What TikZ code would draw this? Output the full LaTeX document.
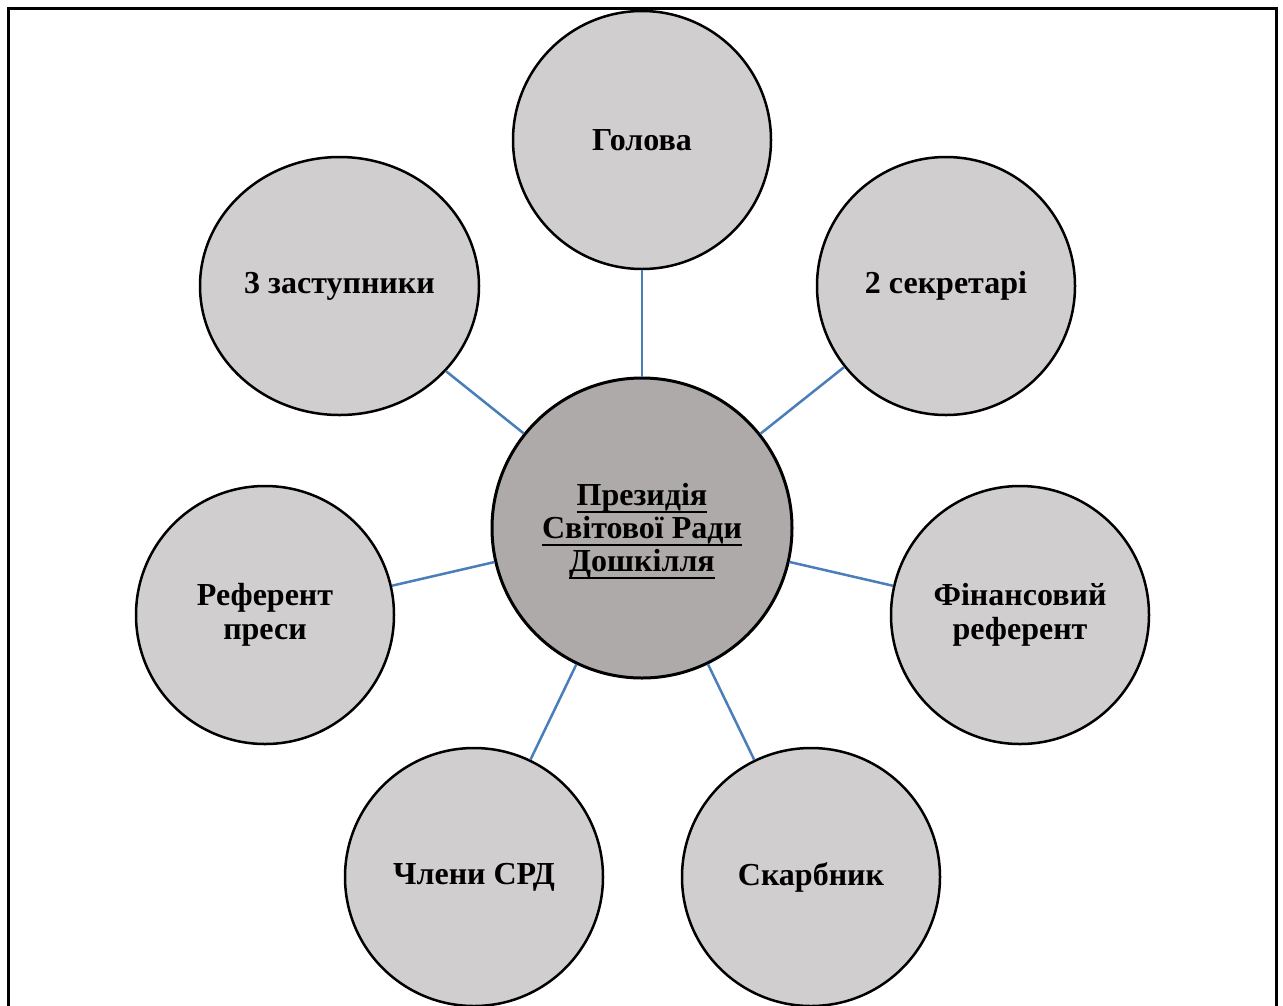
\documentclass[tikz,border=0pt]{standalone}
\usepackage{fontspec}
\setmainfont{Liberation Serif}
\usetikzlibrary{shapes.geometric}
\newcommand\myul[1]{\setbox0\hbox{#1}\rlap{\rule[-7pt]{\wd0}{2pt}}\box0}
\definecolor{outerfill}{HTML}{D0CECE}
\definecolor{centerfill}{HTML}{AEAAAA}
\definecolor{linkblue}{HTML}{4A7EBB}
\tikzset{
  role/.style={circle, draw=black, line width=2.5pt, fill=outerfill, minimum size=258pt, inner sep=0pt,
    align=center, font=\bfseries\fontsize{32}{34}\selectfont},
  roleell/.style={ellipse, draw=black, line width=2.5pt, fill=outerfill, minimum width=279pt, minimum height=258pt, inner sep=0pt,
    align=center, font=\bfseries\fontsize{32}{34}\selectfont},
  hub/.style={circle, draw=black, line width=3pt, fill=centerfill, minimum size=300pt, inner sep=0pt},
  hubtext/.style={align=center, inner sep=0pt, font=\bfseries\fontsize{32}{33}\selectfont},
  link/.style={draw=linkblue, line width=2.5pt},
  frame/.style={draw=black, line width=3pt}
}
\begin{document}
\begin{tikzpicture}[x=1pt,y=-1pt]
\useasboundingbox (0,0) rectangle (1283,1005);
\begin{scope}
\clip (0,0) rectangle (1283,1005);
\draw[frame] (8.5,1020) -- (8.5,8.5) -- (1276,8.5) -- (1276,1020);
\end{scope}
\node[hub] (c) at (642,528) {};
\node[hubtext] (ct) at (642,531) {\myul{Президія}\\\myul{Світової Ради}\\\myul{Дошкілля}};
\node[role] (g) at (642,140) {Голова};
\node[role] (s) at (946,286) {2 секретарі};
\node[role] (f) at (1020,615) {Фінансовий\\референт};
\node[role] (k) at (811,877) {Скарбник};
\node[role] (m) at (474,877) {Члени СРД};
\node[role] (p) at (265,615) {Референт\\преси};
\node[roleell] (z) at (339.5,286) {3 заступники};
\foreach \n in {g,s,f,k,m,p,z} {\draw[link] (c) -- (\n);}
\end{tikzpicture}
\end{document}
